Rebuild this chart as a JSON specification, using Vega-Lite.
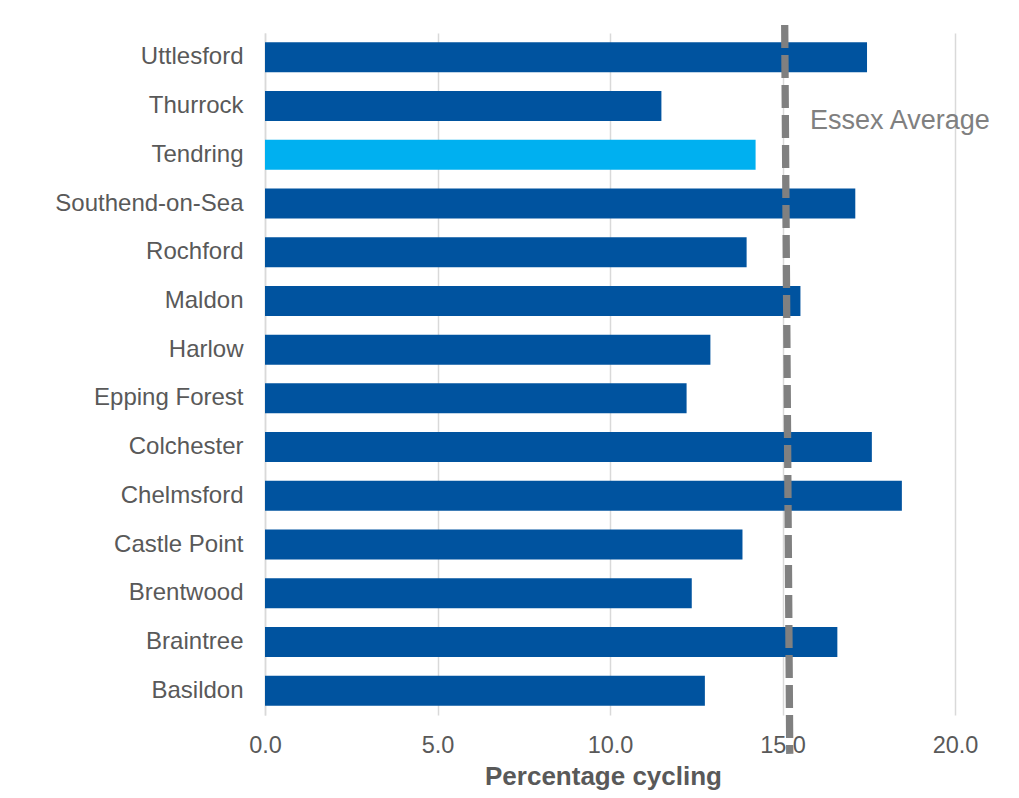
{
  "$schema": "https://vega.github.io/schema/vega-lite/v6.json",
  "autosize": {"type": "none"},
  "padding": {"left": 265, "top": 33, "right": 64, "bottom": 83},
  "width": 690,
  "height": 682,
  "background": "white",
  "config": {
    "view": {"stroke": null},
    "font": "Liberation Sans"
  },
  "datasets": {
    "bars": [
      {"district": "Uttlesford", "pct": 17.45, "highlight": "no"},
      {"district": "Thurrock", "pct": 11.49, "highlight": "no"},
      {"district": "Tendring", "pct": 14.22, "highlight": "yes"},
      {"district": "Southend-on-Sea", "pct": 17.11, "highlight": "no"},
      {"district": "Rochford", "pct": 13.96, "highlight": "no"},
      {"district": "Maldon", "pct": 15.52, "highlight": "no"},
      {"district": "Harlow", "pct": 12.91, "highlight": "no"},
      {"district": "Epping Forest", "pct": 12.22, "highlight": "no"},
      {"district": "Colchester", "pct": 17.59, "highlight": "no"},
      {"district": "Chelmsford", "pct": 18.46, "highlight": "no"},
      {"district": "Castle Point", "pct": 13.84, "highlight": "no"},
      {"district": "Brentwood", "pct": 12.37, "highlight": "no"},
      {"district": "Braintree", "pct": 16.59, "highlight": "no"},
      {"district": "Basildon", "pct": 12.75, "highlight": "no"}
    ],
    "label": [
      {"district": "Thurrock", "pct": 15.8, "text": "Essex Average"}
    ],
    "avg": [
      {"x": 15.064, "x2": 15.21, "y": 1.0117, "y2": -0.057}
    ]
  },
  "resolve": {"scale": {"y": "independent"}, "axis": {"y": "independent"}},
  "layer": [
    {
      "layer": [
        {
          "data": {"name": "bars"},
          "mark": {"type": "bar", "orient": "horizontal"},
          "encoding": {
            "y": {
              "field": "district",
              "type": "nominal",
              "sort": null,
              "scale": {
                "domain": ["Uttlesford", "Thurrock", "Tendring", "Southend-on-Sea", "Rochford", "Maldon", "Harlow", "Epping Forest", "Colchester", "Chelmsford", "Castle Point", "Brentwood", "Braintree", "Basildon"],
                "paddingInner": 0.384, "paddingOuter": 0.192
              },
              "axis": {
                "title": null,
                "ticks": false,
                "domain": true,
                "domainColor": "#d9d9d9",
                "domainWidth": 1.5,
                "labelFontSize": 24,
                "labelColor": "#595959",
                "labelPadding": 22,
                "labelLimit": 400,
                "labelFont": "Liberation Sans"
              }
            },
            "x": {
              "field": "pct",
              "type": "quantitative",
              "scale": {"domain": [0, 20], "nice": false},
              "axis": {
                "values": [0, 5, 10, 15, 20],
                "format": ".1f",
                "title": "Percentage cycling",
                "titleFontSize": 26,
                "titleFontWeight": "bold",
                "titleColor": "#595959",
                "titlePadding": 7,
                "titleX": 338,
                "titleFont": "Liberation Sans",
                "labelFontSize": 23.5,
                "labelColor": "#595959",
                "labelPadding": 18,
                "labelFlush": false,
                "labelFont": "Liberation Sans",
                "ticks": false,
                "domain": false,
                "grid": true,
                "gridColor": "#d9d9d9",
                "gridWidth": 1.5
              }
            },
            "color": {
              "field": "highlight",
              "type": "nominal",
              "scale": {"domain": ["no", "yes"], "range": ["#00539F", "#00B0F0"]},
              "legend": null
            }
          }
        },
        {
          "data": {"name": "label"},
          "mark": {"type": "text", "align": "left", "baseline": "middle", "dy": 15, "fontSize": 27, "color": "#808080", "font": "Liberation Sans"},
          "encoding": {
            "y": {"field": "district", "type": "nominal", "sort": null},
            "x": {"field": "pct", "type": "quantitative"},
            "text": {"field": "text"}
          }
        }
      ]
    },
    {
      "data": {"name": "avg"},
      "mark": {"type": "rule", "color": "#808080", "strokeWidth": 7.3, "strokeDash": [23, 7], "clip": false},
      "encoding": {
        "x": {"field": "x", "type": "quantitative"},
        "x2": {"field": "x2"},
        "y": {"field": "y", "type": "quantitative", "scale": {"domain": [0, 1], "nice": false, "zero": false}, "axis": null},
        "y2": {"field": "y2"}
      }
    }
  ]
}
